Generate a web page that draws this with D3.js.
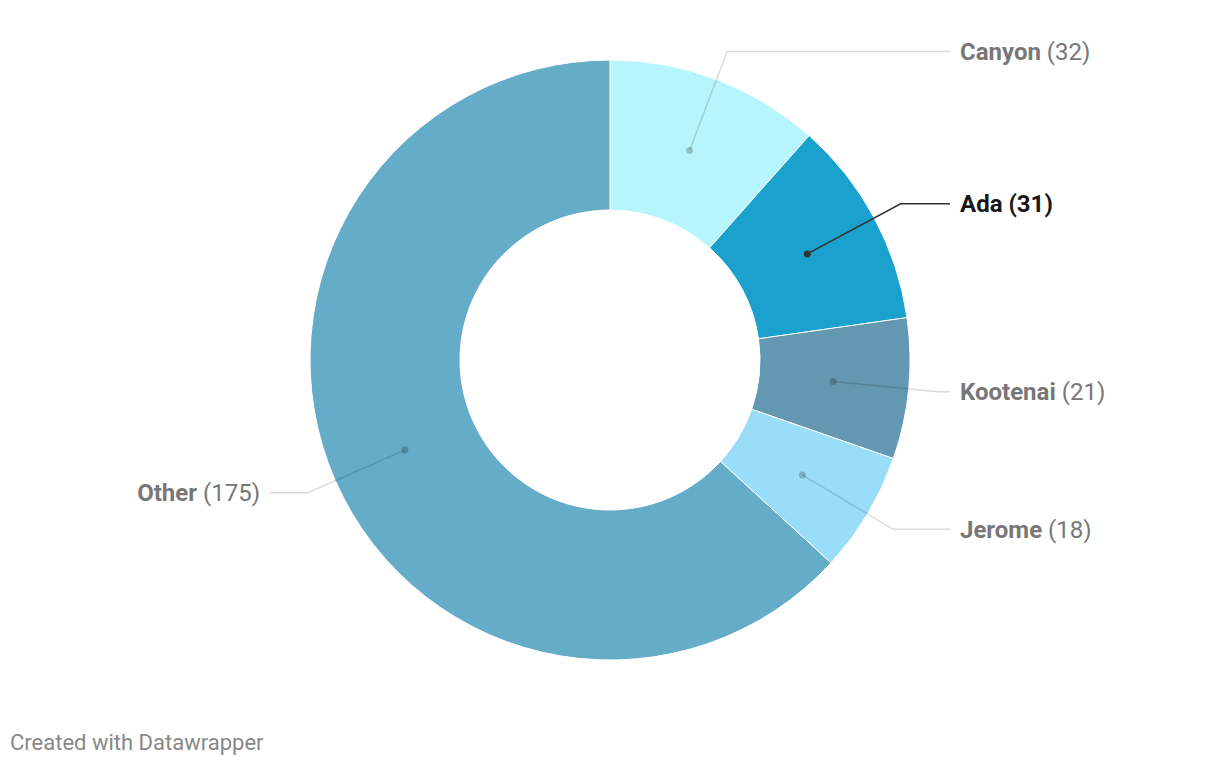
<!DOCTYPE html>
<html><head><meta charset="utf-8">
<script src="https://cdn.jsdelivr.net/npm/d3@7"></script>
<style>
body{margin:0;background:#fff;font-family:Roboto,sans-serif;}
svg{display:block;}
</style></head>
<body>
<svg id="chart" width="1220" height="766"></svg>
<script>
const categories = ["Canyon", "Ada", "Kootenai", "Jerome", "Other"];
const values = [32, 31, 21, 18, 175];
const colors = ["#b5f5fb", "#1aa1ce", "#6497b1", "#9addf8", "#64acc8"];
const highlighted = ["Ada"];

const W = 1220, H = 766;
const cx = 610, cy = 360, rOuter = 300, rInner = 150;
const svg = d3.select("#chart");
const g = svg.append("g").attr("transform", `translate(${cx},${cy})`);

const data = categories.map((c, i) => ({name: c, value: values[i], color: colors[i]}));
const pie = d3.pie().value(d => d.value).sort(null);
const arcs = pie(data);
const arc = d3.arc().innerRadius(rInner).outerRadius(rOuter);
const midArc = d3.arc().innerRadius(224).outerRadius(224);
const elbowArc = d3.arc().innerRadius(330).outerRadius(330);

g.selectAll("path.slice").data(arcs).join("path")
  .attr("class", "slice")
  .attr("d", arc)
  .attr("fill", d => d.data.color)
  .attr("stroke", "#fff").attr("stroke-width", 1);

arcs.forEach(a => {
  const hl = highlighted.includes(a.data.name);
  const p0 = midArc.centroid(a);
  const p1 = elbowArc.centroid(a);
  const right = p1[0] > 0;
  const xEnd = right ? 950 - cx : 270 - cx;
  g.append("polyline")
    .attr("points", [p0, p1, [xEnd, p1[1]]].map(p => p.join(",")).join(" "))
    .attr("fill", "none")
    .attr("stroke", hl ? "#333" : "#000")
    .attr("stroke-opacity", hl ? 1 : 0.14)
    .attr("stroke-width", 1.5);
  g.append("circle").attr("cx", p0[0]).attr("cy", p0[1]).attr("r", 3.5)
    .attr("fill", hl ? "#333" : "#000").attr("fill-opacity", hl ? 1 : 0.2);
  const t = g.append("text")
    .attr("x", right ? xEnd + 10 : xEnd - 10)
    .attr("y", p1[1])
    .attr("dy", "0.35em")
    .attr("text-anchor", right ? "start" : "end")
    .attr("font-size", 24)
    .attr("fill", hl ? "#181818" : "#777");
  t.append("tspan").attr("font-weight", 700).text(a.data.name);
  t.append("tspan").attr("font-weight", hl ? 700 : 400).text(` (${a.data.value})`);
});

svg.append("text").attr("x", 10).attr("y", 750)
  .attr("font-size", 22).attr("fill", "#888")
  .text("Created with Datawrapper");
</script>
</body></html>
